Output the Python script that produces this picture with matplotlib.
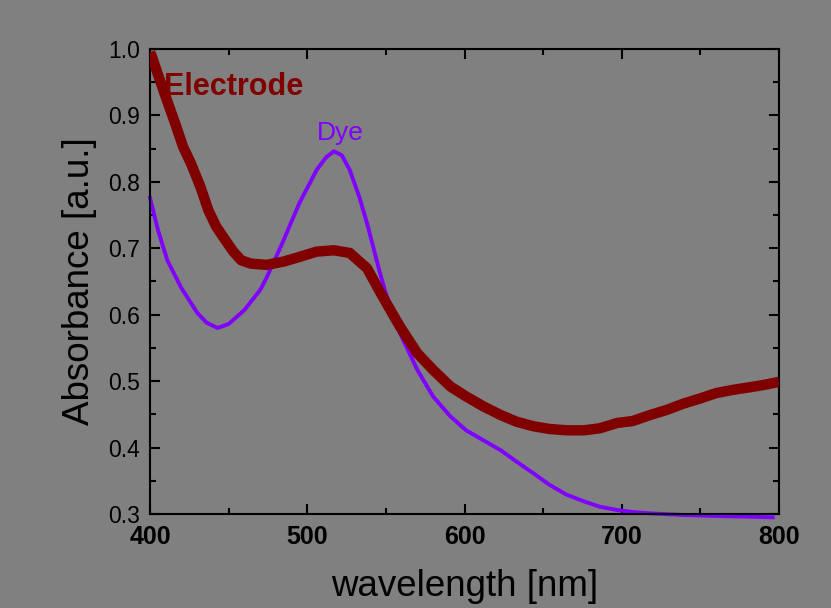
import matplotlib
matplotlib.use("Agg")
import matplotlib.pyplot as plt
from matplotlib.ticker import MultipleLocator

# Electrode absorbance (nm, a.u.)
elec_wl = [400, 401, 405, 410, 416, 421, 426, 432, 437, 442, 448, 453, 458, 464, 474, 485,
           495, 506, 517, 527, 538, 548, 559, 570, 580, 591, 601, 612, 623, 633, 644, 654,
           665, 676, 686, 697, 707, 718, 729, 739, 750, 760, 771, 782, 792, 800]
elec_ab = [0.995, 0.99, 0.962, 0.928, 0.888, 0.853, 0.828, 0.793, 0.758, 0.733, 0.712, 0.695,
           0.682, 0.677, 0.675, 0.680, 0.687, 0.695, 0.697, 0.693, 0.670, 0.627, 0.582, 0.542,
           0.517, 0.492, 0.477, 0.462, 0.449, 0.439, 0.432, 0.428, 0.426, 0.426, 0.429, 0.437,
           0.440, 0.449, 0.457, 0.466, 0.474, 0.482, 0.487, 0.491, 0.495, 0.499]

# Dye absorbance (nm, a.u.)
dye_wl = [400, 405, 411, 420, 430, 436, 443, 450, 460, 470, 474, 484, 495, 506, 512, 517,
          522, 527, 533, 538, 546, 550, 559, 570, 580, 591, 601, 612, 623, 633, 644, 654,
          665, 676, 686, 697, 707, 718, 739, 760, 780, 796]
dye_ab = [0.776, 0.728, 0.682, 0.640, 0.603, 0.588, 0.580, 0.586, 0.607, 0.637, 0.655, 0.707,
          0.768, 0.818, 0.837, 0.846, 0.840, 0.818, 0.778, 0.738, 0.665, 0.632, 0.572, 0.517,
          0.477, 0.447, 0.426, 0.411, 0.396, 0.379, 0.361, 0.344, 0.329, 0.319, 0.311, 0.306,
          0.303, 0.301, 0.2985, 0.297, 0.296, 0.295]

x_ticks = [400, 500, 600, 700, 800]
y_ticks = [0.3, 0.4, 0.5, 0.6, 0.7, 0.8, 0.9, 1.0]

bg = "#808080"
plt.rcParams['font.family'] = ['Liberation Sans', 'DejaVu Sans']

fig = plt.figure(figsize=(8.31, 6.08), dpi=100, facecolor=bg)
ax = fig.add_axes([150/831, 94/608, 629/831, 465/608])
ax.set_facecolor(bg)

ax.plot(dye_wl, dye_ab, color="#8000ff", lw=2.8, clip_on=False, zorder=2)
ax.plot(elec_wl, elec_ab, color="#800000", lw=7.5, solid_capstyle="butt", zorder=3)

ax.set_xlim(400, 800)
ax.set_ylim(0.3, 1.0)
ax.set_xticks(x_ticks)
ax.set_yticks(y_ticks)
ax.xaxis.set_minor_locator(MultipleLocator(50))
ax.yaxis.set_minor_locator(MultipleLocator(0.05))
ax.set_xticklabels([str(v) for v in x_ticks], fontsize=18, fontweight="bold")
ax.set_yticklabels([f"{v:.1f}" for v in y_ticks], fontsize=16.5)

ax.tick_params(which="both", direction="in", top=True, right=True, width=1.5, color="black")
ax.tick_params(which="major", length=7)
ax.tick_params(which="minor", length=4)
ax.tick_params(axis="x", pad=8)
ax.tick_params(axis="y", pad=7)
for s in ax.spines.values():
    s.set_linewidth(1.5)

ax.set_xlabel("wavelength [nm]", fontsize=26.5, labelpad=14)
ax.set_ylabel("Absorbance [a.u.]", fontsize=26.5, labelpad=8)

ax.text(409, 0.943, "Electrode", color="#800000", fontsize=22, fontweight="bold", va="center", ha="left")
ax.text(521, 0.873, "Dye", color="#8000ff", fontsize=19, va="center", ha="center")

fig.savefig("out.png", dpi=100, facecolor=bg)
